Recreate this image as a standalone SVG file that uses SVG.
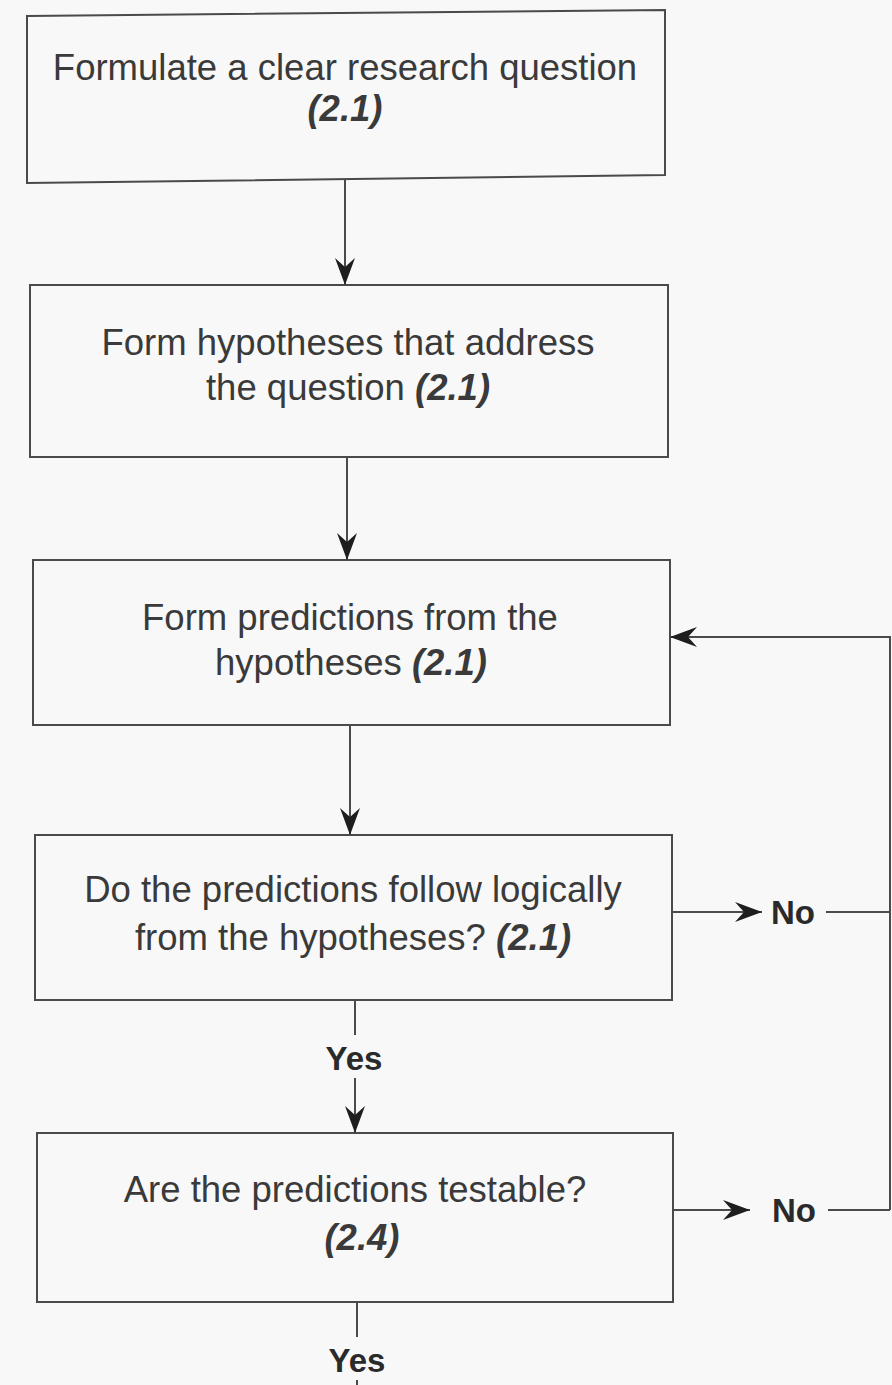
<svg xmlns="http://www.w3.org/2000/svg" width="892" height="1385" viewBox="0 0 892 1385">
  <defs>
    <marker id="arrow" markerUnits="userSpaceOnUse" viewBox="0 -12 28 24" refX="27" refY="0" markerWidth="28" markerHeight="24" orient="auto">
      <path d="M27,0 L0,-10 L9,0 L0,10 Z" fill="#1e1e1e"/>
    </marker>
    <style>
      .box { fill: none; stroke: #4a4a4a; stroke-width: 2; }
      .txt { font-family: "Liberation Sans", Arial, Helvetica, sans-serif; font-size: 36.5px; fill: #3a3a3a; text-anchor: middle; }
      .ref { font-weight: bold; font-style: italic; }
      .lbl { font-family: "Liberation Sans", Arial, Helvetica, sans-serif; font-size: 33px; font-weight: bold; fill: #2a2a2a; text-anchor: middle; }
      .edge { fill: none; stroke: #4a4a4a; stroke-width: 2; }
    </style>
  </defs>

  <rect x="0" y="0" width="892" height="1385" fill="#f8f8f8"/>

  <!-- process steps -->
  <g id="node-question">
    <polygon class="box" points="27,16 665,10 665,175 27,183"/>
    <text class="txt" x="345" y="80">Formulate a clear research question</text>
    <text class="txt ref" x="345" y="121">(2.1)</text>
  </g>

  <g id="node-hypotheses">
    <rect class="box" x="30" y="285" width="638" height="172"/>
    <text class="txt" x="348" y="355">Form hypotheses that address</text>
    <text class="txt" x="348" y="400">the question <tspan class="ref">(2.1)</tspan></text>
  </g>

  <g id="node-predictions">
    <rect class="box" x="33" y="560" width="637" height="165"/>
    <text class="txt" x="350" y="630">Form predictions from the</text>
    <text class="txt" x="351" y="675">hypotheses <tspan class="ref">(2.1)</tspan></text>
  </g>

  <g id="node-logical">
    <rect class="box" x="35" y="835" width="637" height="165"/>
    <text class="txt" x="353" y="902">Do the predictions follow logically</text>
    <text class="txt" x="353" y="950">from the hypotheses? <tspan class="ref">(2.1)</tspan></text>
  </g>

  <g id="node-testable">
    <rect class="box" x="37" y="1133" width="636" height="169"/>
    <text class="txt" x="355" y="1202">Are the predictions testable?</text>
    <text class="txt ref" x="362" y="1250">(2.4)</text>
  </g>

  <!-- connectors -->
  <g id="connectors">
    <line class="edge" x1="345" y1="180" x2="345" y2="285" marker-end="url(#arrow)"/>
    <line class="edge" x1="347" y1="457" x2="347" y2="560" marker-end="url(#arrow)"/>
    <line class="edge" x1="350" y1="725" x2="350" y2="835" marker-end="url(#arrow)"/>

    <!-- Yes from the logic check -->
    <line class="edge" x1="355" y1="1000" x2="355" y2="1035"/>
    <text class="lbl" x="354" y="1070">Yes</text>
    <line class="edge" x1="355" y1="1078" x2="355" y2="1133" marker-end="url(#arrow)"/>

    <!-- Yes from the testability check -->
    <line class="edge" x1="357" y1="1302" x2="357" y2="1337"/>
    <text class="lbl" x="357" y="1372">Yes</text>
    <line class="edge" x1="357" y1="1380" x2="357" y2="1385"/>

    <!-- No branches feeding back to the predictions step -->
    <line class="edge" x1="672" y1="912" x2="762" y2="912" marker-end="url(#arrow)"/>
    <text class="lbl" x="793" y="924">No</text>
    <line class="edge" x1="826" y1="912" x2="890" y2="912"/>

    <line class="edge" x1="673" y1="1210" x2="750" y2="1210" marker-end="url(#arrow)"/>
    <text class="lbl" x="794" y="1222">No</text>
    <line class="edge" x1="828" y1="1210" x2="890" y2="1210"/>

    <polyline class="edge" points="890,1210 890,637 670,637" marker-end="url(#arrow)"/>
  </g>
</svg>
